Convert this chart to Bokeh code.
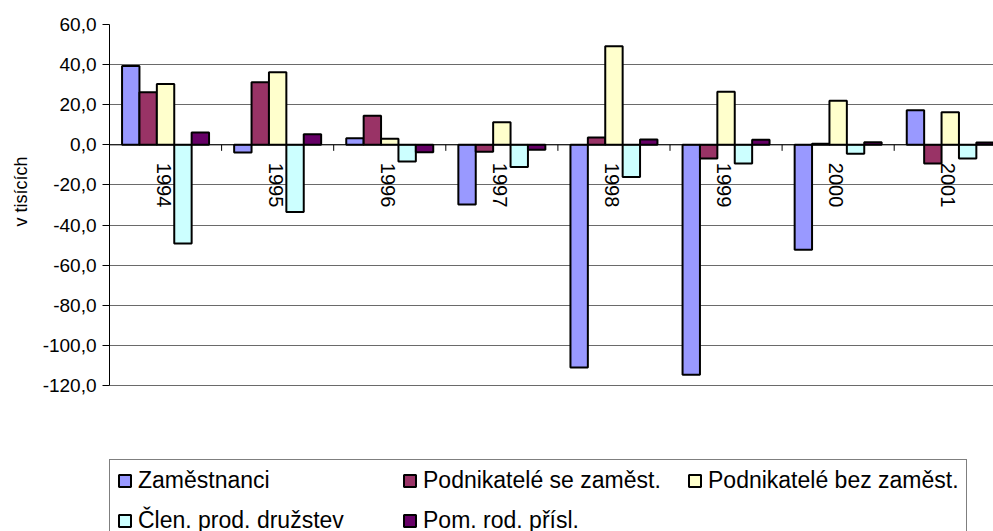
import math
from bokeh.plotting import figure
from bokeh.models import (Range1d, FixedTicker, Legend, LegendItem, Span, Title)
from bokeh.embed import file_html
from bokeh.resources import INLINE
from bokeh.core.properties import value

# ---- data -------------------------------------------------------------
years = ["1994", "1995", "1996", "1997", "1998", "1999", "2000", "2001"]
zamestnanci = [39.3, -3.8, 3.3, -29.7, -111.0, -114.7, -52.3, 17.2]
podnikatele_se_zam = [26.2, 31.2, 14.5, -3.5, 3.7, -6.8, 0.5, -9.3]
podnikatele_bez_zam = [30.3, 36.2, 3.0, 11.2, 49.2, 26.5, 22.0, 16.2]
clen_prod_druzstev = [-49.2, -33.5, -8.3, -11.0, -16.0, -9.3, -4.5, -6.8]
pom_rod_prisl = [6.2, 5.3, -3.7, -2.5, 2.7, 2.5, 1.3, 1.2]

series_names = ["Zaměstnanci", "Podnikatelé se zaměst.", "Podnikatelé bez zaměst.",
                "Člen. prod. družstev", "Pom. rod. přísl."]
series_values = [zamestnanci, podnikatele_se_zam, podnikatele_bez_zam,
                 clen_prod_druzstev, pom_rod_prisl]
series_colors = ["#9999FF", "#993366", "#FFFFCC", "#CCFFFF", "#660066"]

y_ticks = [-120, -100, -80, -60, -40, -20, 0, 20, 40, 60]
y_tick_labels = ["-120,0", "-100,0", "-80,0", "-60,0", "-40,0", "-20,0",
                 "0,0", "20,0", "40,0", "60,0"]
y_axis_title = "v tisících"

# ---- layout ------------------------------------------------------------
W, H = 993, 531
FRAME_LEFT, FRAME_TOP = 109, 24
AXIS_BOTTOM_PX = 385          # where the value axis ends (-120)
CAT_PX = 112.1
y_lo, y_hi = min(y_ticks), max(y_ticks)
px_per_unit = (AXIS_BOTTOM_PX - FRAME_TOP) / (y_hi - y_lo)
# the frame reaches the bottom of the canvas so the legend can sit inside it
y_frame_bottom = y_lo - (H - AXIS_BOTTOM_PX) / px_per_unit
x_end = (W - FRAME_LEFT) / CAT_PX

FONT = "Liberation Sans"

p = figure(width=W, height=H, output_backend="svg", toolbar_location=None,
           x_range=Range1d(0, x_end), y_range=Range1d(y_frame_bottom, y_hi),
           x_axis_location=None,
           min_border_left=FRAME_LEFT, min_border_right=0,
           min_border_top=FRAME_TOP, min_border_bottom=0)
p.outline_line_color = None
p.background_fill_color = "white"
p.border_fill_color = "white"

p.xgrid.visible = False
p.ygrid.ticker = FixedTicker(ticks=y_ticks)
p.ygrid.grid_line_color = "#6a6a6a"
p.ygrid.grid_line_width = 1

yax = p.yaxis[0]
yax.bounds = (y_lo, y_hi)
yax.ticker = FixedTicker(ticks=y_ticks)
yax.major_label_overrides = dict(zip(y_ticks, y_tick_labels))
yax.major_label_text_font = FONT
yax.major_label_text_font_size = "19px"
yax.major_label_text_color = "black"
yax.major_tick_out = 7
yax.major_tick_in = 0
yax.minor_tick_out = 0
yax.minor_tick_in = 0
yax.major_label_standoff = 6
yax.axis_line_color = "black"
yax.major_tick_line_color = "black"

# ---- bars --------------------------------------------------------------
n_series = len(series_values)
group_frac = 0.776
bar_w = group_frac / n_series
group_off = (1 - group_frac) / 2

renderers = []
for j, (vals, col) in enumerate(zip(series_values, series_colors)):
    xs = [i + group_off + bar_w * (j + 0.5) for i in range(len(years))]
    r = p.vbar(x=xs, top=vals, bottom=0, width=bar_w,
               fill_color=col, line_color="black", line_width=2)
    renderers.append(r)

# zero (category) axis line
p.add_layout(Span(location=0, dimension="width", line_color="black", line_width=1))

# category tick marks at the zero line
bounds = list(range(1, len(years)))
p.segment(x0=bounds, y0=[0] * len(bounds), x1=bounds, y1=[-3] * len(bounds),
          line_color="black", line_width=1)

# category labels (rotated, below zero line)
p.text(x=[i + 0.5 for i in range(len(years))], y=[0] * len(years), text=years,
       angle=-math.pi / 2, text_align="left", text_baseline="middle",
       y_offset=18, x_offset=-2,
       text_font=value(FONT), text_font_size="20px", text_color="black")

# y axis title (left side panel)
p.add_layout(Title(text=y_axis_title, align="left", offset=H - 226, standoff=14,
                   vertical_align="top",
                   text_font=FONT, text_font_size="18px",
                   text_font_style="normal", text_color="black"), "left")

# ---- legend ------------------------------------------------------------
legend = Legend(items=[LegendItem(label=n, renderers=[r])
                       for n, r in zip(series_names, renderers)],
                orientation="horizontal", ncols=3,
                location=(0, -11),
                border_line_color="black", border_line_width=1,
                background_fill_color="white", background_fill_alpha=1,
                padding=7, spacing=13, margin=0,
                glyph_width=15, glyph_height=15, label_standoff=6,
                label_width=251, label_height=26,
                label_text_font=FONT, label_text_font_size="23px",
                label_text_color="black")
p.add_layout(legend, "center")

open("out.html", "w").write(file_html(p, INLINE))
